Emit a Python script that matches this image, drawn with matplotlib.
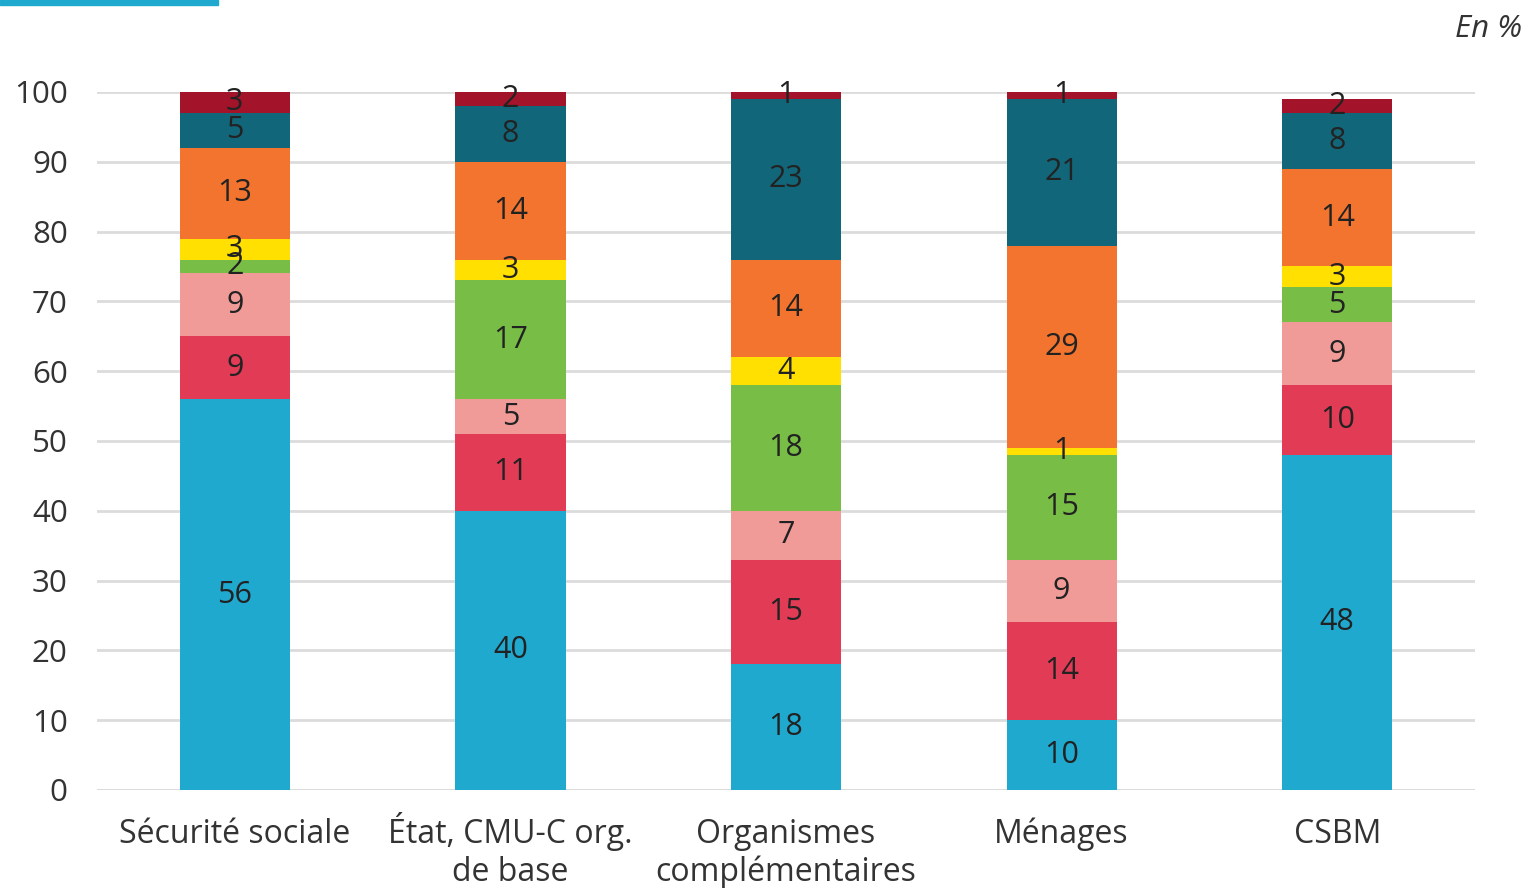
import matplotlib.pyplot as plt
from matplotlib.patches import Rectangle
import numpy as np

# financeurs (x axis) and the share of each spending item, in %
financeurs = ['Sécurité sociale', 'État, CMU-C org.\nde base', 'Organismes\ncomplémentaires',
              'Ménages', 'CSBM']
seg_blue = [56, 40, 18, 10, 48]
seg_red = [9, 11, 15, 14, 10]
seg_pink = [9, 5, 7, 9, 9]
seg_green = [2, 17, 18, 15, 5]
seg_yellow = [3, 3, 4, 1, 3]
seg_orange = [13, 14, 14, 29, 14]
seg_teal = [5, 8, 23, 21, 8]
seg_darkred = [3, 2, 1, 1, 2]

segments = [seg_blue, seg_red, seg_pink, seg_green, seg_yellow, seg_orange, seg_teal, seg_darkred]
colors = ['#1fa9cf', '#e23b55', '#f09b98', '#77bd46', '#ffe000', '#f2742f', '#12667a', '#a3132a']

plt.rcParams['font.family'] = ['Open Sans', 'DejaVu Sans']

fig = plt.figure(figsize=(15.27, 8.88), dpi=100)
ax = fig.add_axes([0.0635, 0.1104, 0.9025, 0.786])

x = np.arange(len(financeurs))
bottom = np.zeros(len(financeurs))
for vals, col in zip(segments, colors):
    vals = np.array(vals, dtype=float)
    ax.bar(x, vals, bottom=bottom, width=0.4, color=col, edgecolor='none', zorder=2)
    for xi, b, v in zip(x, bottom, vals):
        ax.text(xi, b + v / 2, f'{v:.0f}', ha='center', va='center',
                fontsize=22, color='#222222', zorder=3, clip_on=False)
    bottom += vals

ax.set_xlim(-0.5, 4.5)
ax.set_ylim(0, 100)
ax.set_yticks(range(0, 101, 10))
ax.set_xticks(x, labels=[])
ax.tick_params(axis='both', length=0, labelsize=22.5, colors='#333333')
ax.tick_params(axis='y', pad=21)
ax.grid(axis='y', color='#dcdcdc', linewidth=2, zorder=0)
for s in ax.spines.values():
    s.set_visible(False)
ax.axhline(0, color='#cfcfcf', linewidth=2, zorder=1)

# category names, one text per line so every first line shares a baseline
for xi, name in zip(x, financeurs):
    for i, line in enumerate(name.split('\n')):
        ax.annotate(line, xy=(xi, 0), xycoords=('data', 'axes fraction'),
                    xytext=(0, -53 - 38 * i), textcoords='offset pixels',
                    ha='center', va='baseline', fontsize=23, color='#333333',
                    annotation_clip=False)

fig.text(0.997, 0.967, 'En %', ha='right', va='center', fontsize=22.5,
         style='italic', color='#333333')
fig.patches.append(Rectangle((0, 0.994), 218 / 1527, 0.006, transform=fig.transFigure,
                             color='#1fa9cf', zorder=5))

fig.savefig('out.png', dpi=100)
